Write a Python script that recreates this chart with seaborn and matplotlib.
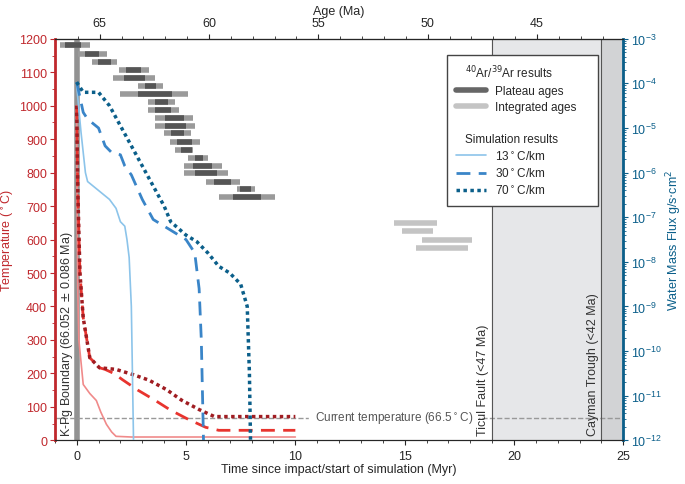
import numpy as np
import matplotlib
matplotlib.use("Agg")
import matplotlib.pyplot as plt
import seaborn as sns
from matplotlib.lines import Line2D

sns.set_style("ticks")
plt.rcParams['font.family'] = ['Liberation Sans', 'DejaVu Sans']

RED = "#c0282d"
BLUE = "#0b5f8a"
KPG_AGE = 66.052

# plateau ages: outer (lo, hi) and inner (lo, hi) in Myr since impact, temperature step
plat_T = [1180, 1155, 1130, 1107, 1083, 1060, 1035, 1012, 988, 964,
          940, 917, 893, 869, 845, 821, 798, 773, 750, 726]
plat_lo = [-0.77, 0.05, 0.72, 1.95, 1.67, 2.81, 1.99, 3.26, 3.26, 3.57,
           3.57, 3.98, 4.25, 4.48, 5.07, 4.89, 4.89, 5.93, 7.33, 6.52]
plat_hi = [0.59, 1.40, 1.86, 3.30, 3.57, 3.94, 5.11, 4.48, 4.66, 5.34,
           5.43, 5.25, 5.66, 5.34, 6.02, 6.65, 6.92, 7.47, 8.14, 9.05]
plat_dlo = [-0.54, 0.36, 0.99, 2.26, 2.17, 3.12, 2.81, 3.57, 3.57, 4.03,
            4.03, 4.30, 4.57, 4.75, 5.39, 5.34, 5.43, 6.29, 7.47, 7.15]
plat_dhi = [0.18, 1.04, 1.58, 2.94, 3.12, 3.62, 4.34, 4.16, 4.30, 4.89,
            4.98, 4.89, 5.29, 5.29, 5.79, 6.20, 6.43, 7.06, 7.96, 8.42]

integ_T = [650, 625, 600, 575]
integ_lo = [14.5, 14.9, 15.8, 15.5]
integ_hi = [16.5, 16.3, 18.1, 17.9]

# simulated temperature (deg C)
t13 = [0, 0.02, 0.05, 0.1, 0.3, 0.6, 0.9, 1.1, 1.36, 1.6, 1.8, 2.5, 10]
T13 = [1000, 700, 450, 300, 167, 140, 119, 85, 48, 25, 12, 10, 10]
t30 = [0, 0.05, 0.15, 0.3, 0.6, 1.04, 1.3, 1.7, 2.1, 2.8, 3.6, 4.3, 5.1, 5.9, 6.5, 10]
T30 = [1000, 750, 500, 366, 247, 217, 212, 200, 181, 150, 119, 90, 63, 39, 30, 30]
t70 = [0, 0.05, 0.15, 0.3, 0.6, 1.04, 1.8, 2.6, 3.3, 4.1, 4.8, 5.6, 6.3, 10]
T70 = [1000, 750, 500, 366, 247, 217, 212, 196, 180, 152, 120, 92, 71, 71]

# simulated water mass flux (log10 g/s cm^2)
f13_t = [0, 0.2, 0.4, 0.5, 1.0, 1.5, 1.8, 2.0, 2.2, 2.3, 2.4, 2.5, 2.6]
f13_v = [-4.05, -5.1, -6.0, -6.2, -6.4, -6.6, -6.8, -7.1, -7.2, -7.5, -7.9, -9.0, -12]
f30_t = [0, 0.3, 0.5, 1.0, 1.3, 1.6, 2.0, 2.2, 2.5, 3.0, 3.5, 4.0, 4.5, 5.0, 5.4, 5.6, 5.7, 5.8]
f30_v = [-3.97, -4.65, -4.8, -5.0, -5.4, -5.55, -5.6, -5.85, -6.05, -6.6, -7.05, -7.2, -7.35, -7.5, -7.8, -8.6, -9.75, -12]
f70_t = [0, 0.3, 0.6, 1.0, 1.5, 2.0, 2.5, 3.0, 3.5, 4.0, 4.3, 5.0, 5.5, 6.0, 6.5, 7.0, 7.5, 7.8, 7.9, 7.95]
f70_v = [-3.97, -4.2, -4.2, -4.2, -4.5, -4.95, -5.4, -5.85, -6.3, -6.75, -7.1, -7.4, -7.55, -7.8, -8.1, -8.25, -8.5, -9.0, -10.5, -12]

fig = plt.figure(figsize=(6.85, 4.85), dpi=100)
ax = fig.add_axes([0.080, 0.090, 0.830, 0.828])

ax.axvspan(19, 24, color="#e6e7e9", zorder=0)
ax.axvspan(24, 25, color="#d2d3d5", zorder=0)
ax.axvline(19, color="#555555", lw=0.8)
ax.axvline(24, color="#555555", lw=0.8)
ax.axvline(0, color="#777777", lw=4, alpha=0.8, zorder=1)

for T, lo, hi, dlo, dhi in zip(plat_T, plat_lo, plat_hi, plat_dlo, plat_dhi):
    ax.plot([lo, hi], [T, T], color="#9a9a9a", lw=4, solid_capstyle="butt", zorder=2)
    ax.plot([dlo, dhi], [T, T], color="#555555", lw=4, solid_capstyle="butt", zorder=2)
for T, lo, hi in zip(integ_T, integ_lo, integ_hi):
    ax.plot([lo, hi], [T, T], color="#c4c4c4", lw=4, solid_capstyle="butt", zorder=2)

ax.axhline(66.5, color="#999999", ls="--", lw=1, zorder=1)
ax.text(14.5, 66.5, "Current temperature (66.5$^\\circ$C)", ha="center", va="center",
        fontsize=8.5, color="#555555", backgroundcolor="white", zorder=2)

sns.lineplot(x=t13, y=T13, ax=ax, color="#f08a8a", lw=1.2, zorder=3)
sns.lineplot(x=t30, y=T30, ax=ax, color="#e8342e", lw=2, ls=(0, (5, 3)), zorder=3)
sns.lineplot(x=t70, y=T70, ax=ax, color="#a01d22", lw=2.5, ls=(0, (1, 1)), zorder=3)

ax.set_xlim(-1, 25)
ax.set_ylim(0, 1200)
ax.set_yticks(range(0, 1201, 100))
ax.set_yticks(range(0, 1201, 50), minor=True)
ax.set_xticks([0, 5, 10, 15, 20, 25])
ax.set_xticks(np.arange(-1, 25.1, 1), minor=True)
ax.set_xlabel("Time since impact/start of simulation (Myr)", fontsize=9, labelpad=1)
ax.set_ylabel("Temperature ($^\\circ$C)", color=RED, fontsize=9, labelpad=2)
ax.tick_params(axis="y", colors=RED, labelsize=9, which="both", pad=2)
ax.tick_params(axis="x", labelsize=9)
ax.spines["left"].set_color(RED)
ax.spines["left"].set_linewidth(2)

ax.text(-0.45, 12, "K-Pg Boundary (66.052 $\\pm$ 0.086 Ma)", rotation=90, ha="center",
        va="bottom", fontsize=9, color="#333333", zorder=4)
ax.text(18.6, 15, "Ticul Fault (<47 Ma)", rotation=90, ha="center", va="bottom", fontsize=9, color="#333333")
ax.text(23.6, 15, "Cayman Trough (<42 Ma)", rotation=90, ha="center", va="bottom", fontsize=9, color="#333333")

# flux axis
ax2 = ax.twinx()
ax2.set_yscale("log")
ax2.set_ylim(1e-12, 1e-3)
ax2.plot(f13_t, 10 ** np.array(f13_v), color="#8cc4ea", lw=1.2, zorder=3)
ax2.plot(f30_t, 10 ** np.array(f30_v), color="#3a85c8", lw=2, ls=(0, (5, 3)), zorder=3)
ax2.plot(f70_t, 10 ** np.array(f70_v), color=BLUE, lw=2.5, ls=(0, (1, 1)), zorder=3)
ax2.set_ylabel("Water Mass Flux g/s$\\cdot$cm$^2$", color=BLUE, fontsize=9, labelpad=2)
ax2.tick_params(axis="y", colors=BLUE, labelsize=9, which="both", pad=2)
ax2.spines["right"].set_color(BLUE)
ax2.spines["right"].set_linewidth(2)
ax2.spines["left"].set_visible(False)

# age axis on top
ax3 = ax.secondary_xaxis("top", functions=(lambda t: KPG_AGE - t, lambda a: KPG_AGE - a))
ax3.set_xticks([65, 60, 55, 50, 45])
ax3.set_xticks(np.arange(42, 67, 1), minor=True)
ax3.set_xlabel("Age (Ma)", fontsize=9, labelpad=2)
ax3.tick_params(labelsize=9)

blank = Line2D([], [], color="none")
handles = [blank,
           Line2D([], [], color="#666666", lw=4),
           Line2D([], [], color="#c4c4c4", lw=4),
           blank, blank,
           Line2D([], [], color="#8cc4ea", lw=1.2),
           Line2D([], [], color="#3a85c8", lw=2, ls=(0, (5, 3))),
           Line2D([], [], color=BLUE, lw=2.5, ls=(0, (1, 1)))]
labels = ["$^{40}$Ar/$^{39}$Ar results", "Plateau ages", "Integrated ages", "",
          "Simulation results", "13$^\\circ$C/km", "30$^\\circ$C/km", "70$^\\circ$C/km"]
leg = ax2.legend(handles, labels, loc="upper right", bbox_to_anchor=(0.965, 0.975),
                 fontsize=8.5, frameon=True, fancybox=False, edgecolor="#444444",
                 framealpha=1, handlelength=2.5, labelspacing=0.35, borderpad=0.8)
leg.get_frame().set_linewidth(1)
for i in (0, 4):
    leg.get_texts()[i].set_position((-30, 0))

fig.savefig("out.png", dpi=100)
